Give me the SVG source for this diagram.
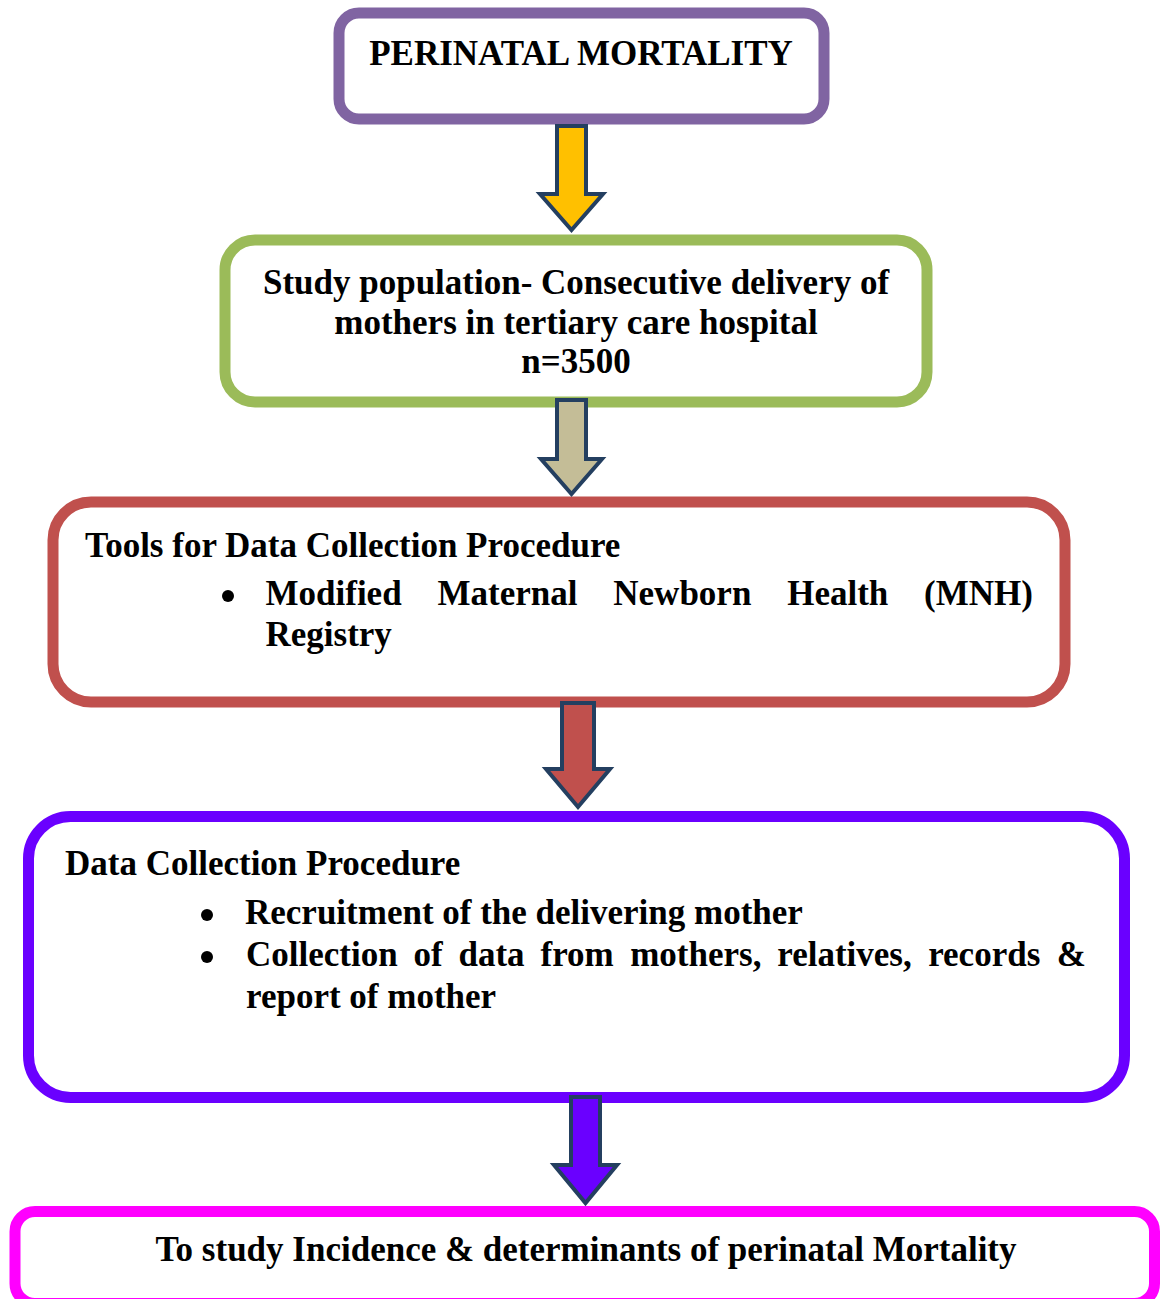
<svg xmlns="http://www.w3.org/2000/svg" width="1162" height="1299" viewBox="0 0 1162 1299">
  <style>
    .box { fill: #ffffff; stroke-width: 11; }
    .t { font-family: "Liberation Serif", "Times New Roman", serif; font-weight: bold; font-size: 35px; fill: #000000; }
    .c { text-anchor: middle; }
    .arrow { stroke: #243F60; stroke-width: 4; stroke-linejoin: miter; }
    .bullet { fill: #000000; }
  </style>
  <rect width="1162" height="1299" fill="#ffffff"/>

  <g id="node-perinatal">
    <rect class="box" x="339" y="13" width="485" height="106" rx="20" ry="20" stroke="#8064A2"/>
    <text class="t c" x="581" y="65">PERINATAL MORTALITY</text>
  </g>

  <g id="node-study-population">
    <rect class="box" x="225" y="240" width="702" height="162" rx="30" ry="30" stroke="#9BBB59"/>
    <text class="t c" x="576" y="294">Study population- Consecutive delivery of</text>
    <text class="t c" x="576" y="333.5">mothers in tertiary care hospital</text>
    <text class="t c" x="576" y="373">n=3500</text>
  </g>

  <g id="node-tools">
    <rect class="box" x="53" y="502" width="1012" height="200" rx="38" ry="38" stroke="#C0504D"/>
    <text class="t" x="85" y="557">Tools for Data Collection Procedure</text>
    <circle class="bullet" cx="228" cy="596" r="6"/>
    <text class="t" y="605"><tspan x="265.5">Modified </tspan><tspan x="437.5">Maternal </tspan><tspan x="613.3">Newborn </tspan><tspan x="787.2">Health </tspan><tspan x="924.1">(MNH)</tspan></text>
    <text class="t" x="265.5" y="646">Registry</text>
  </g>

  <g id="node-data-collection">
    <rect class="box" x="28.5" y="816.5" width="1096" height="281" rx="42" ry="42" stroke="#6A00FF"/>
    <text class="t" x="65" y="875">Data Collection Procedure</text>
    <circle class="bullet" cx="207" cy="915" r="6"/>
    <text class="t" x="245" y="924">Recruitment of the delivering mother</text>
    <circle class="bullet" cx="207" cy="957" r="6"/>
    <text class="t" y="966"><tspan x="246">Collection </tspan><tspan x="413.5">of </tspan><tspan x="458.5">data </tspan><tspan x="540.5">from </tspan><tspan x="630.2">mothers, </tspan><tspan x="777.3">relatives, </tspan><tspan x="928.2">records </tspan><tspan x="1056.8">&amp;</tspan></text>
    <text class="t" x="246" y="1008">report of mother</text>
  </g>

  <g id="node-objective">
    <rect class="box" x="15" y="1211.5" width="1139.5" height="92" rx="20" ry="20" stroke="#FF00FF"/>
    <text class="t c" x="586" y="1261">To study Incidence &amp; determinants of perinatal Mortality</text>
  </g>

  <g id="connectors">
    <path class="arrow" fill="#FFC000" d="M557,126 H586 V194 H603 L571.5,230 L540,194 H557 Z"/>
    <path class="arrow" fill="#C4BD97" d="M557,400 H586 V459 H602 L571.5,494 L541,459 H557 Z"/>
    <path class="arrow" fill="#C0504D" d="M562,703 H594 V769 H610 L578,807 L546,769 H562 Z"/>
    <path class="arrow" fill="#6A00FF" d="M571,1097 H600 V1165 H617 L585.5,1203 L554,1165 H571 Z"/>
  </g>
</svg>
